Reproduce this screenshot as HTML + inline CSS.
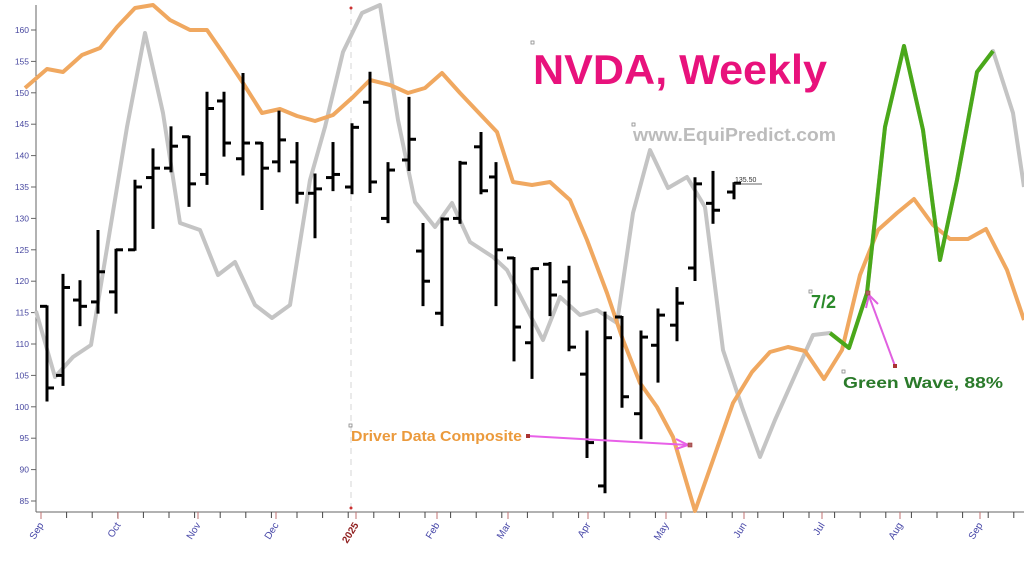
<!DOCTYPE html>
<html><head><meta charset="utf-8"><style>
html,body{margin:0;padding:0;background:#fff;}
svg{display:block;font-family:"Liberation Sans",sans-serif;}
</style></head><body>
<svg id="c" width="1024" height="567" viewBox="0 0 1024 567" xmlns="http://www.w3.org/2000/svg">
<rect width="1024" height="567" fill="#fff"/>
<line x1="351" y1="8" x2="351" y2="510" stroke="#ddd" stroke-width="1.2" stroke-dasharray="6,5"/>
<circle cx="351" cy="8" r="1.5" fill="#c33"/>
<circle cx="351" cy="508" r="1.5" fill="#c33"/>
<g id="yax"></g>
<g id="xax"></g>
<polyline id="gray" fill="none" stroke="#c4c4c4" stroke-width="4" stroke-linejoin="round"/>
<polyline id="orange" fill="none" stroke="#f0a860" stroke-width="4" stroke-linejoin="round"/>
<g id="bars" stroke="#000" stroke-width="3"></g>
<polyline id="green" fill="none" stroke="#4aa81a" stroke-width="4" stroke-linejoin="round"/>
<text x="735" y="182" font-size="7" fill="#333">135.50</text>
<line x1="733" y1="184" x2="762" y2="184" stroke="#333" stroke-width="0.8"/>
<rect x="531" y="41" width="3" height="3" fill="none" stroke="#888" stroke-width="0.8"/>
<text x="533" y="84" font-size="42" font-weight="bold" fill="#e8127c" textLength="294" lengthAdjust="spacingAndGlyphs">NVDA, Weekly</text>
<rect x="632" y="123" width="3" height="3" fill="none" stroke="#888" stroke-width="0.8"/>
<text x="633" y="141" font-size="18.5" font-weight="bold" fill="#bcbcbc" textLength="203" lengthAdjust="spacingAndGlyphs">www.EquiPredict.com</text>
<rect x="349" y="424" width="3" height="3" fill="none" stroke="#888" stroke-width="0.8"/>
<text x="351" y="441" font-size="14.5" font-weight="bold" fill="#eb9a3c" textLength="171" lengthAdjust="spacingAndGlyphs">Driver Data Composite</text>
<line x1="528" y1="436" x2="688" y2="445" stroke="#e860e8" stroke-width="2"/>
<polyline points="676,439 688,445 676,449" fill="none" stroke="#e860e8" stroke-width="2"/>
<rect x="526" y="434" width="4" height="4" fill="#a33"/>
<rect x="688" y="443" width="4" height="4" fill="#a66" stroke="#a33" stroke-width="0.6"/>
<rect x="809" y="290" width="3" height="3" fill="none" stroke="#888" stroke-width="0.8"/>
<text x="811" y="308" font-size="18" font-weight="bold" fill="#2a8a2a">7/2</text>
<rect x="842" y="370" width="3" height="3" fill="none" stroke="#888" stroke-width="0.8"/>
<text x="843" y="388" font-size="16" font-weight="bold" fill="#2a7a2a" textLength="160" lengthAdjust="spacingAndGlyphs">Green Wave, 88%</text>
<line x1="895" y1="366" x2="869" y2="296" stroke="#e060e0" stroke-width="2"/>
<polyline points="866,308 869,295 878,304" fill="none" stroke="#e060e0" stroke-width="2"/>
<rect x="893" y="364" width="4" height="4" fill="#a33"/>
<rect x="866" y="291" width="4" height="4" fill="#a66" stroke="#a33" stroke-width="0.6"/>
</svg>
<script>
var NS="http://www.w3.org/2000/svg";
function Y(v){return 30+(160-v)*6.28;}
function el(p,t,a){var e=document.createElementNS(NS,t);for(var k in a)e.setAttribute(k,a[k]);p.appendChild(e);return e;}
var yax=document.getElementById('yax'),xax=document.getElementById('xax');
el(yax,'line',{x1:36,y1:5,x2:36,y2:512,stroke:'#666',"stroke-width":1});
for(var v=85;v<=160;v+=5){var y=Y(v);el(yax,'line',{x1:31,y1:y,x2:36,y2:y,stroke:'#666',"stroke-width":1});
var t=el(yax,'text',{x:29,y:y+3,"font-size":8.5,fill:'#4848a0',"text-anchor":'end'});t.textContent=v;}
el(xax,'line',{x1:36,y1:512,x2:1024,y2:512,stroke:'#666',"stroke-width":1});
for(var x=41;x<1024;x+=25.6){el(xax,'line',{x1:x,y1:512,x2:x,y2:518,stroke:'#444',"stroke-width":1});}
var months=[[41,'Sep'],[118,'Oct'],[198,'Nov'],[276,'Dec'],[356,'2025'],[437,'Feb'],[508,'Mar'],[588,'Apr'],[666,'May'],[744,'Jun'],[822,'Jul'],[900,'Aug'],[980,'Sep']];
months.forEach(function(m){el(xax,'line',{x1:m[0],y1:512,x2:m[0],y2:519,stroke:'#c07070',"stroke-width":1});
var is=m[1]=='2025';var t=el(xax,'text',{x:m[0]+3,y:525,"font-size":10,fill:is?'#902020':'#4848a8',"font-weight":is?'bold':'normal',"text-anchor":'end',transform:'rotate(-58 '+(m[0]+3)+' 525)'});t.textContent=m[1];});
var bars=[[47,116,101,116,103],[63,121,103.5,105,119],[80,120,113,117,116],[98,128,115,116.7,121.5],[116,125,115,118.3,125],[135,136,125,125,135],[153,141,128.5,136.5,138],[171,144.5,137.5,138,141.5],[189,143,132,143,135.5],[207,150,135.5,137,147.5],[224,150,140,148.7,142],[243,153,137,139.5,142],[262,142,131.5,142,138],[279,147,137.5,139,142.5],[297,142,132.5,139,134],[315,137,127,134,134.7],[333,142,134.5,136.5,137],[352,145,134,135,144.5],[370,153.2,134.2,148.5,135.8],[388,138.8,129.4,130,137.7],[409,149.2,137.7,139.3,142.6],[423,129.1,116.2,124.8,120],[442,130,113,114.9,129.9],[460,139,129.3,130,138.8],[481,143.6,134,141.4,134.4],[496,138.8,116.2,136.6,125],[514,123.7,107.4,123.7,112.7],[532,122,104.6,110.2,122],[550,122.9,114.6,122.7,117.8],[569,122.3,109,119.9,109.5],[587,112,92,105.2,94.3],[605,115,86.4,87.4,111],[622,114.3,100,114.3,101.6],[641,112,95,98.9,111.1],[658,115.5,104,109.8,114.6],[677,118.9,110.6,113,116.5],[695,136.4,120.2,122.1,135.5],[713,137.4,129.3,132.4,131.3],[734,135.6,133.2,134.2,135.6]];
var g=document.getElementById('bars');
bars.forEach(function(b){var x=b[0];el(g,'line',{x1:x,y1:Y(b[1])-1,x2:x,y2:Y(b[2])+1});
el(g,'line',{x1:x-7,y1:Y(b[3]),x2:x,y2:Y(b[3])});el(g,'line',{x1:x,y1:Y(b[4]),x2:x+7,y2:Y(b[4])});});
document.getElementById('gray').setAttribute('points',"36,311 55,377 73,357 91,345 127,127 145,33 163,113 180,223 200,230 218,275 235,262 255,305 272,318 290,305 310,180 325,127 343,52 362,13 380,5 398,120 415,202 435,227 452,203 470,242 493,257 507,270 543,340 560,297 580,315 597,310 617,323 633,213 650,150 668,188 687,177 705,207 723,350 742,407 760,457 775,420 813,335 830,333 849,348 867,293 885,127 904,46 923,130 940,260 957,180 977,72 993,51 1013,113 1024,187");
document.getElementById('orange').setAttribute('points',"25,88 47,69 63,72 82,55 100,48 117,27 135,8 153,5 170,20 190,30 207,30 223,53 243,83 262,113 280,109 297,116 315,121 333,115 353,97 370,80 390,85 408,93 425,88 442,73 460,93 478,112 497,132 513,182 532,185 550,182 570,200 587,240 607,293 623,340 640,383 657,407 673,437 695,511 713,460 733,403 752,372 770,352 788,347 805,351 824,379 842,350 860,275 878,230 897,213 914,199 933,225 950,239 968,239 986,229 1007,270 1024,320");
document.getElementById('green').setAttribute('points',"830,333 849,348 867,293 885,127 904,46 923,130 940,260 957,180 977,72 993,51");
</script>
</body></html>
